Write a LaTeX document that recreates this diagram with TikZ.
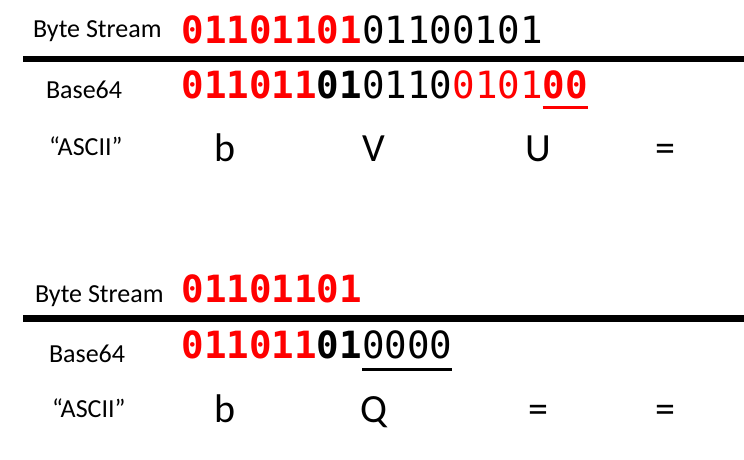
\documentclass[tikz,border=0pt]{standalone}
\usepackage{fontspec}
\setmainfont{Carlito}
\newfontfamily\bitsfont{DejaVu Sans Mono}
\definecolor{pptred}{RGB}{255,0,0}
\begin{document}
\begin{tikzpicture}[x=1pt,y=-1pt,
  every node/.style={inner sep=0pt, outer sep=0pt, anchor=base west},
  lbl/.style={font=\fontsize{26}{30}\selectfont},
  big/.style={anchor=base, font=\fontsize{40}{44}\selectfont},
  redbold/.style={text=pptred, font=\bitsfont\bfseries\fontsize{37.5}{40}\selectfont},
  redreg/.style={text=pptred, font=\bitsfont\fontsize{37.5}{40}\selectfont},
  blackbold/.style={text=black, font=\bitsfont\bfseries\fontsize{37.5}{40}\selectfont},
  blackreg/.style={text=black, font=\bitsfont\fontsize{37.5}{40}\selectfont},
  rule/.style={line width=6.5pt},
  uline/.style={line width=3pt}]
\useasboundingbox (0,0) rectangle (744,460);

% ---------- block 1 ----------
\node[lbl] (bs1) at (33,38) {Byte Stream};
\node[lbl] (b641) at (46,99) {Base64};
\node[lbl] (as1) at (49,155) {“ASCII”};

\node[redbold] (r1a) at (181.5,44) {01101101};
\node[blackreg, at=(r1a.base east)] (r1b) {01100101};

\coordinate (l1s) at (23,59);
\coordinate (l1e) at (744,59);
\draw[rule] (l1s) -- (l1e);

\node[redbold] (r2a) at (181.5,99) {011011};
\node[blackbold, at=(r2a.base east)] (r2b) {01};
\node[blackreg, at=(r2b.base east)] (r2c) {0110};
\node[redreg, at=(r2c.base east)] (r2d) {0101};
\node[redbold, at=(r2d.base east)] (r2e) {00};
\draw[uline, pptred] ([yshift=-8.5pt]r2e.base west) -- ([yshift=-8.5pt]r2e.base east);

\node[big] (c1a) at (225.5,161) {b};
\node[big] (c1b) at (374,161) {V};
\node[big] (c1c) at (538,161) {U};
\node[big] (c1d) at (665.5,161) {=};

% ---------- block 2 ----------
\node[lbl] (bs2) at (35,302) {Byte Stream};
\node[lbl] (b642) at (49,362) {Base64};
\node[lbl] (as2) at (52,417) {“ASCII”};

\node[redbold] (r3a) at (181.5,302) {01101101};

\coordinate (l2s) at (23,318.5);
\coordinate (l2e) at (744,318.5);
\draw[rule] (l2s) -- (l2e);

\node[redbold] (r4a) at (181.5,358) {011011};
\node[blackbold, at=(r4a.base east)] (r4b) {01};
\node[blackreg, at=(r4b.base east)] (r4c) {0000};
\draw[uline, black] ([yshift=-11pt]r4c.base west) -- ([yshift=-11pt]r4c.base east);

\node[big] (c2a) at (225.5,422) {b};
\node[big] (c2b) at (374,422) {Q};
\node[big] (c2c) at (538,422) {=};
\node[big] (c2d) at (665.5,422) {=};
\end{tikzpicture}
\end{document}
